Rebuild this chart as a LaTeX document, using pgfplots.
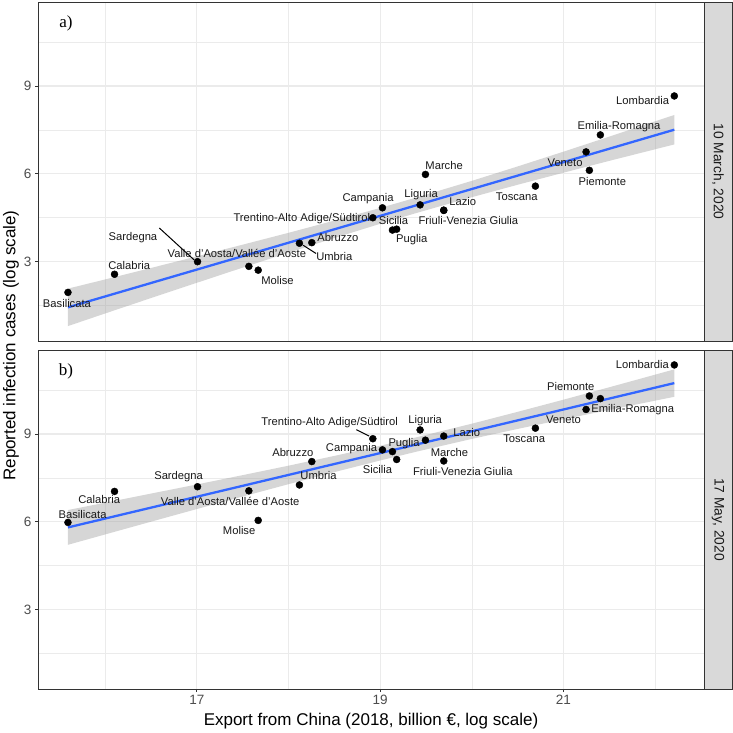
\documentclass[border=0pt]{standalone}
\usepackage{fontspec}
\setmainfont{Liberation Sans}
\newfontfamily\seriffont{Liberation Serif}
\usepackage{pgfplots}
\pgfplotsset{compat=1.18}
\definecolor{c20}{HTML}{333333}
\definecolor{c30}{HTML}{4D4D4D}
\definecolor{gridc}{HTML}{EBEBEB}
\definecolor{stripc}{HTML}{D9D9D9}
\definecolor{smoothc}{HTML}{3366FF}
\pgfplotsset{
  facet/.style={
    width=666pt, height=339pt, scale only axis,
    xmin=15.266, xmax=22.534, ymin=0.29, ymax=11.87,
    xtick={17,19,21}, ytick={3,6,9},
    minor xtick={16,18,20,22}, minor ytick={1.5,4.5,7.5,10.5},
    grid=both,
    major grid style={color=gridc, line width=1.2pt},
    minor grid style={color=gridc, line width=0.6pt},
    axis line style={color=c20, line width=0.8pt},
    tick style={color=c20, line width=0.8pt},
    major tick length=3pt, minor tick length=0pt,
    tick align=outside, xtick pos=bottom, ytick pos=left,
    tick label style={font=\fontsize{13.5}{13.5}\selectfont, color=c30},
    /pgf/number format/assume math mode=true,
  },
  band/.style={fill=black!40, fill opacity=0.4, draw=none, forget plot},
  fit/.style={smoothc, line width=2.3pt, forget plot},
  pts/.style={only marks, mark=*, mark size=3.5pt, black, forget plot},
  lead/.style={black, line width=1pt, forget plot},
}
\tikzset{lbl/.style={font=\fontsize{11.2}{11.2}\selectfont, text=black!90, inner sep=0pt}}
\begin{document}
\begin{tikzpicture}
\useasboundingbox (0,0) rectangle (733pt,-732pt);
% ---------- panel a ----------
\begin{axis}[facet, at={(38pt,-2pt)}, anchor=north west, xticklabels={}, xmajorticks=false]
\addplot[band] coordinates {
(15.593,2.080) (16.0,2.394) (16.5,2.786) (17.0,3.181) (17.5,3.581) (18.0,3.986) (18.5,4.403)
(19.0,4.835) (19.4,5.195) (20.0,5.760) (20.5,6.253) (21.0,6.757) (21.5,7.271) (22.21,8.011)
(22.21,7.005) (21.5,6.443) (21.0,6.039) (20.5,5.627) (20.0,5.202) (19.4,4.667) (19.0,4.293)
(18.5,3.809) (18.0,3.308) (17.5,2.797) (17.0,2.279) (16.5,1.758) (16.0,1.232) (15.593,0.800)
} -- cycle;
\addplot[fit] coordinates {(15.593,1.44) (22.21,7.508)};
\addplot[lead] coordinates {(16.59,4.15) (16.97,3.06)};
\addplot[lead] coordinates {(18.16,3.56) (18.30,3.28)};
\addplot[pts] coordinates {
(15.593,1.95) (16.101,2.57) (17.007,3.00) (17.567,2.84) (17.669,2.71)
(18.119,3.63) (18.254,3.65) (18.92,4.50) (19.025,4.84) (19.134,4.08)
(19.18,4.11) (19.436,4.94) (19.494,5.98) (19.694,4.75) (19.694,4.76)
(20.694,5.58) (21.247,6.75) (21.283,6.12) (21.403,7.33) (22.21,8.66)};
\node[font=\seriffont\fontsize{17}{17}\selectfont] at (axis cs:15.571,11.14) {a)};
\node[lbl] at (axis cs:15.582,1.58) {Basilicata};
\node[lbl] at (axis cs:16.261,2.86) {Calabria};
\node[lbl] at (axis cs:16.302,3.82) {Sardegna};
\node[lbl] at (axis cs:17.436,3.28) {Valle d'Aosta/Vallée d'Aoste};
\node[lbl] at (axis cs:17.879,2.35) {Molise};
\node[lbl] at (axis cs:18.538,3.82) {Abruzzo};
\node[lbl] at (axis cs:18.50,3.17) {Umbria};
\node[lbl] at (axis cs:18.145,4.48) {Trentino-Alto Adige/Südtirol};
\node[lbl] at (axis cs:18.868,5.14) {Campania};
\node[lbl] at (axis cs:19.145,4.42) {Sicilia};
\node[lbl] at (axis cs:19.345,3.74) {Puglia};
\node[lbl] at (axis cs:19.447,5.28) {Liguria};
\node[lbl] at (axis cs:19.902,5.06) {Lazio};
\node[lbl] at (axis cs:19.963,4.40) {Friuli-Venezia Giulia};
\node[lbl] at (axis cs:19.698,6.30) {Marche};
\node[lbl] at (axis cs:20.491,5.23) {Toscana};
\node[lbl] at (axis cs:21.018,6.39) {Veneto};
\node[lbl] at (axis cs:21.425,5.73) {Piemonte};
\node[lbl] at (axis cs:21.607,7.63) {Emilia-Romagna};
\node[lbl] at (axis cs:21.865,8.52) {Lombardia};
\end{axis}
% ---------- panel b ----------
\begin{axis}[facet, at={(38pt,-350pt)}, anchor=north west]
\addplot[band] coordinates {
(15.593,6.404) (16.0,6.655) (16.5,6.966) (17.0,7.278) (17.5,7.596) (18.0,7.919) (18.5,8.253)
(19.0,8.600) (19.4,8.892) (20.0,9.353) (20.5,9.758) (21.0,10.173) (21.5,10.597) (22.21,11.209)
(22.21,10.271) (21.5,9.825) (21.0,9.503) (20.5,9.174) (20.0,8.833) (19.4,8.400) (19.0,8.096)
(18.5,7.699) (18.0,7.287) (17.5,6.866) (17.0,6.438) (16.5,6.006) (16.0,5.571) (15.593,5.216)
} -- cycle;
\addplot[fit] coordinates {(15.593,5.81) (22.21,10.74)};
\addplot[lead] coordinates {(18.74,9.15) (18.88,8.93)};
\addplot[pts] coordinates {
(15.593,5.98) (16.101,7.04) (17.007,7.20) (17.567,7.06) (17.669,6.05)
(18.119,7.26) (18.254,8.06) (18.92,8.84) (19.025,8.46) (19.134,8.40)
(19.18,8.13) (19.436,9.14) (19.494,8.79) (19.694,8.93) (19.694,8.08)
(20.694,9.20) (21.247,9.84) (21.283,10.30) (21.403,10.21) (22.21,11.36)};
\node[font=\seriffont\fontsize{17}{17}\selectfont] at (axis cs:15.571,11.14) {b)};
\node[lbl] at (axis cs:15.752,6.24) {Basilicata};
\node[lbl] at (axis cs:15.934,6.76) {Calabria};
\node[lbl] at (axis cs:16.80,7.53) {Sardegna};
\node[lbl] at (axis cs:17.363,6.71) {Valle d'Aosta/Vallée d'Aoste};
\node[lbl] at (axis cs:17.461,5.71) {Molise};
\node[lbl] at (axis cs:18.327,7.59) {Umbria};
\node[lbl] at (axis cs:18.047,8.38) {Abruzzo};
\node[lbl] at (axis cs:18.449,9.38) {Trentino-Alto Adige/Südtirol};
\node[lbl] at (axis cs:18.687,8.49) {Campania};
\node[lbl] at (axis cs:18.970,7.78) {Sicilia};
\node[lbl] at (axis cs:19.261,8.69) {Puglia};
\node[lbl] at (axis cs:19.491,9.45) {Liguria};
\node[lbl] at (axis cs:19.945,9.05) {Lazio};
\node[lbl] at (axis cs:19.756,8.38) {Marche};
\node[lbl] at (axis cs:19.902,7.71) {Friuli-Venezia Giulia};
\node[lbl] at (axis cs:20.571,8.84) {Toscana};
\node[lbl] at (axis cs:21.0,9.49) {Veneto};
\node[lbl] at (axis cs:21.08,10.62) {Piemonte};
\node[lbl] at (axis cs:21.756,9.85) {Emilia-Romagna};
\node[lbl] at (axis cs:21.861,11.39) {Lombardia};
\end{axis}
% ---------- strips ----------
\draw[fill=stripc, draw=c20, line width=0.8pt] (704pt,-2pt) rectangle (732pt,-341pt);
\draw[fill=stripc, draw=c20, line width=0.8pt] (704pt,-350pt) rectangle (732pt,-689pt);
\node[rotate=-90, font=\fontsize{13.8}{13.8}\selectfont, text=black!90] at (718pt,-171.5pt) {10 March, 2020};
\node[rotate=-90, font=\fontsize{13.8}{13.8}\selectfont, text=black!90] at (718pt,-519.5pt) {17 May, 2020};
% ---------- axis titles ----------
\node[rotate=90, font=\fontsize{17}{17}\selectfont] at (11pt,-345.5pt) {Reported infection cases (log scale)};
\node[font=\fontsize{17}{17}\selectfont] at (371pt,-721pt) {Export from China (2018, billion €, log scale)};
\end{tikzpicture}
\end{document}
